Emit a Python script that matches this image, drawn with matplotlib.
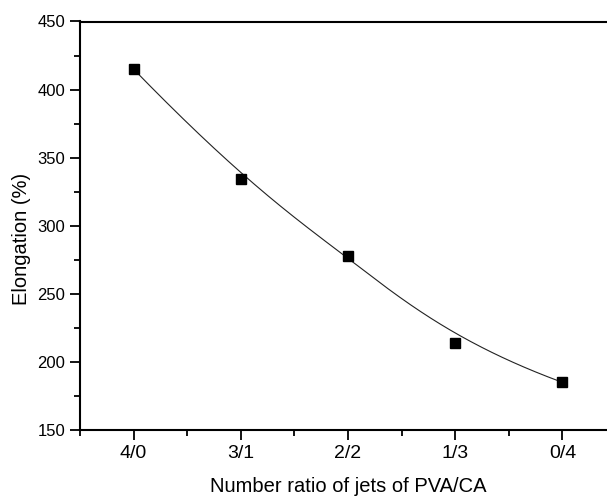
import matplotlib
import matplotlib.pyplot as plt
import numpy as np
from matplotlib import ticker

ratios = ["4/0", "3/1", "2/2", "1/3", "0/4"]
elongation = [415, 334, 278, 214, 185]


def bspline(px, py, k=3, n=300):
    # clamped B-spline with the data points as control points
    m = len(px)
    inner = np.linspace(0, 1, m - k + 1)[1:-1]
    knots = np.concatenate([np.zeros(k + 1), inner, np.ones(k + 1)])
    t = np.linspace(0, 1 - 1e-9, n)

    def basis(i, p, t):
        if p == 0:
            return ((knots[i] <= t) & (t < knots[i + 1])).astype(float)
        out = np.zeros_like(t)
        d1 = knots[i + p] - knots[i]
        d2 = knots[i + p + 1] - knots[i + 1]
        if d1 > 0:
            out += (t - knots[i]) / d1 * basis(i, p - 1, t)
        if d2 > 0:
            out += (knots[i + p + 1] - t) / d2 * basis(i + 1, p - 1, t)
        return out

    B = np.array([basis(i, k, t) for i in range(m)])
    return B.T @ np.asarray(px, float), B.T @ np.asarray(py, float)


def plot_elongation():
    matplotlib.rc('font', family='Liberation Sans', size=11)
    fig = plt.figure(figsize=(6.07, 4.96), dpi=100)
    ax = fig.add_axes([80 / 607, 66 / 496, 536 / 607, 408.5 / 496])

    x = np.arange(1, len(ratios) + 1)
    xs, ys = bspline(x, elongation)
    ax.plot(xs, ys, color="#222222", lw=0.8)
    ax.plot(x, elongation, "s", color="black", ms=6.5)

    ax.set_xlim(0.5, 5.5)
    ax.set_ylim(150, 450)
    ax.set_xticks(x)
    ax.set_xticklabels(ratios, fontsize=14)
    ax.xaxis.set_minor_locator(ticker.FixedLocator([0.5, 1.5, 2.5, 3.5, 4.5]))
    ax.yaxis.set_major_locator(ticker.MultipleLocator(50))
    ax.yaxis.set_minor_locator(ticker.MultipleLocator(25))
    ax.tick_params(which="major", direction="out", length=7, width=1.3)
    ax.tick_params(which="minor", direction="out", length=4, width=1.3)
    ax.tick_params(axis="y", labelsize=12)

    for s in ax.spines.values():
        s.set_linewidth(1.5)
    ax.spines["right"].set_visible(False)

    ax.set_ylabel("Elongation (%)", fontsize=14.5)
    ax.yaxis.set_label_coords(-0.092, 0.468)
    ax.set_xlabel("Number ratio of jets of PVA/CA", fontsize=14.5, labelpad=11)
    plt.savefig("out.png")


if __name__ == "__main__":
    plot_elongation()
